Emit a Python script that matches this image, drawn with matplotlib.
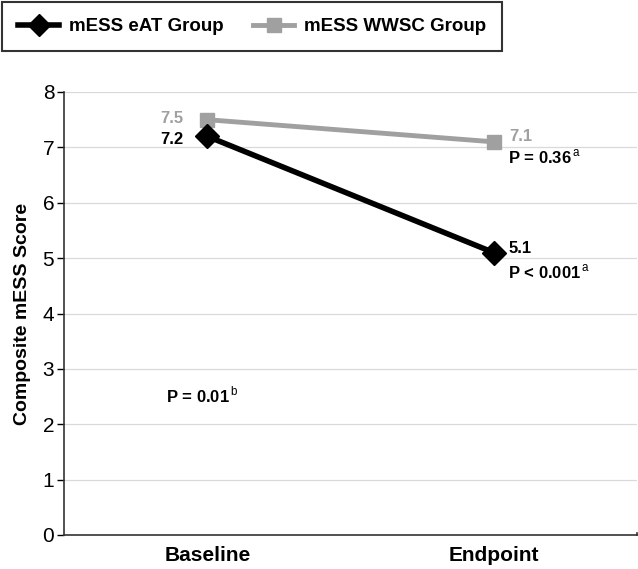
import matplotlib
matplotlib.use("Agg")
import matplotlib.pyplot as plt

plt.rcParams['font.family'] = ['Liberation Sans', 'DejaVu Sans']
plt.rcParams['mathtext.fontset'] = 'custom'
plt.rcParams['mathtext.rm'] = 'Liberation Sans'

categories = ["Baseline", "Endpoint"]
eat_values = [7.2, 5.1]
wwsc_values = [7.5, 7.1]
eat_label = "mESS eAT Group"
wwsc_label = "mESS WWSC Group"
yticks = [0, 1, 2, 3, 4, 5, 6, 7, 8]

fig = plt.figure(figsize=(6.38, 5.69), dpi=100)
ax = fig.add_axes([64/638, 1-535/569, 573/638, 443/569])

xpos = [0.5, 1.5]
ax.set_xlim(0, 2)
ax.set_ylim(0, 8)
ax.set_yticks(yticks)
for y in yticks[1:]:
    ax.axhline(y, color="#d9d9d9", lw=0.9, zorder=0)

l2, = ax.plot(xpos, wwsc_values, color="#a0a0a0", lw=3.5, marker="s", ms=10,
              mfc="#a0a0a0", mec="#a0a0a0", label=wwsc_label, zorder=3)
l1, = ax.plot(xpos, eat_values, color="black", lw=4, marker="D", ms=12,
              mfc="black", mec="black", label=eat_label, zorder=4)

ax.set_xticks(xpos)
ax.set_xticklabels(categories, fontsize=15, fontweight="bold")
ax.tick_params(axis="x", length=0, pad=8)
ax.tick_params(axis="y", labelsize=15, length=5, width=1, direction="out", pad=2)
ax.set_ylabel("Composite mESS Score", fontsize=14, fontweight="bold", labelpad=8)
for s in ["top", "right"]:
    ax.spines[s].set_visible(False)
ax.spines["left"].set_color("#333333")
ax.spines["bottom"].set_color("#333333")
ax.spines["left"].set_linewidth(1.2)
ax.spines["bottom"].set_linewidth(1.2)
# small end tick at right of bottom axis
ax.plot([2, 2], [0, 0.04], color="#333333", lw=1.2, clip_on=False)

# value labels
ax.annotate(f"{wwsc_values[0]}", (xpos[0], wwsc_values[0]), xytext=(-17, 1),
            textcoords="offset points", ha="right", va="center",
            fontsize=12, fontweight="bold", color="#a0a0a0")
ax.annotate(f"{eat_values[0]}", (xpos[0], eat_values[0]), xytext=(-17, -2),
            textcoords="offset points", ha="right", va="center",
            fontsize=12, fontweight="bold", color="black")
ax.annotate(f"{wwsc_values[1]}", (xpos[1], wwsc_values[1]), xytext=(11, 4),
            textcoords="offset points", ha="left", va="center",
            fontsize=12, fontweight="bold", color="#a0a0a0")
ax.annotate(f"{eat_values[1]}", (xpos[1], eat_values[1]), xytext=(11, 3),
            textcoords="offset points", ha="left", va="center",
            fontsize=12, fontweight="bold", color="black")

# p-values
ax.annotate(r"P = 0.36$^{\,\mathrm{a}}$", (xpos[1], wwsc_values[1]), xytext=(10, -11),
            textcoords="offset points", ha="left", va="center",
            fontsize=12, fontweight="bold", color="black")
ax.annotate(r"P < 0.001$^{\,\mathrm{a}}$", (xpos[1], eat_values[1]), xytext=(10, -14),
            textcoords="offset points", ha="left", va="center",
            fontsize=12, fontweight="bold", color="black")
ax.text(0.355, 2.53, r"P = 0.01$^{\,\mathrm{b}}$", fontsize=12, fontweight="bold",
        ha="left", va="center", color="black")

leg = fig.legend(handles=[l1, l2], loc="upper left", bbox_to_anchor=(2/638, 1-2/569),
                 borderaxespad=0, ncol=2,
                 prop={"weight": "bold", "size": 13.5},
                 frameon=True, fancybox=False, edgecolor="black",
                 handlelength=2.2, handletextpad=0.5, columnspacing=1.6,
                 borderpad=0.85, markerscale=0.95)
leg.get_frame().set_linewidth(1.5)

fig.savefig("out.png", dpi=100)
